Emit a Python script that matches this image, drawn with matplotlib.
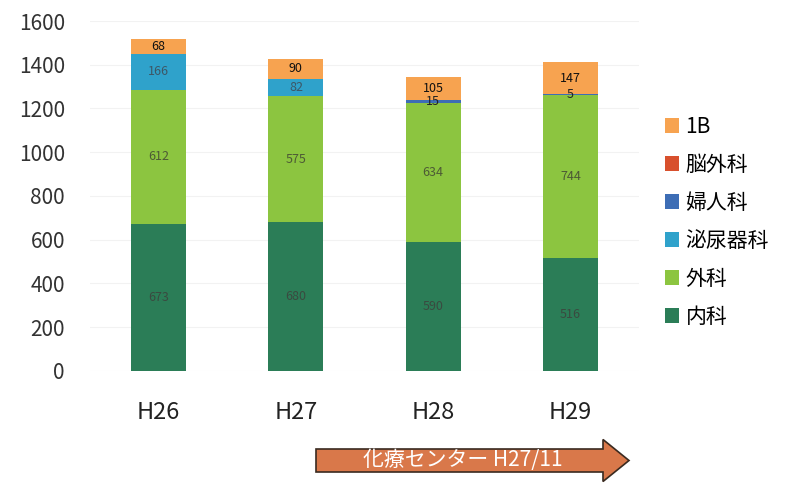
import matplotlib
matplotlib.use("Agg")
import matplotlib.pyplot as plt
from matplotlib.patches import Patch, FancyArrow
from matplotlib.transforms import IdentityTransform

plt.rcParams["font.family"] = ["Noto Sans CJK JP", "DejaVu Sans"]

years = ["H26", "H27", "H28", "H29"]
naika = [673, 680, 590, 516]
geka = [612, 575, 634, 744]
hinyoki = [166, 82, 0, 0]
fujin = [0, 0, 15, 5]
nougeka = [0, 0, 0, 0]
ward_1b = [68, 90, 105, 147]

series = [
    ("内科", naika, "#2b7d57", "#3a4a40"),
    ("外科", geka, "#8cc540", "#4d5a35"),
    ("泌尿器科", hinyoki, "#2fa2cb", "#3d5766"),
    ("婦人科", fujin, "#3d6db5", "#222222"),
    ("脳外科", nougeka, "#d8502d", "#222222"),
    ("1B", ward_1b, "#f7a350", "#111111"),
]

fig = plt.figure(figsize=(7.86, 4.83), dpi=100)
ax = fig.add_axes([0.1145, 0.232, 0.6985, 0.7245])

x = range(len(years))
bottom = [0] * len(years)
for name, vals, color, tcolor in series:
    ax.bar(x, vals, 0.4, bottom=bottom, color=color, edgecolor="none", zorder=2)
    for i, v in enumerate(vals):
        if v > 0:
            ax.text(i, bottom[i] + v / 2, str(v), ha="center", va="center",
                    fontsize=9, color=tcolor, zorder=3)
    bottom = [b + v for b, v in zip(bottom, vals)]

ax.set_xlim(-0.5, len(years) - 0.5)
ax.set_ylim(0, 1600)
ax.set_yticks(range(0, 1601, 200))
ax.set_xticks(list(x))
ax.set_xticklabels(years, fontsize=17)
ax.tick_params(axis="y", labelsize=15, length=0, pad=18, colors="#333333")
ax.tick_params(axis="x", length=0, pad=22, colors="#222222")
ax.grid(axis="y", color="#f2f2f2", linewidth=0.8, zorder=0)
for s in ax.spines.values():
    s.set_visible(False)

handles = [Patch(facecolor=c, edgecolor="none", label=n) for n, _, c, _ in series][::-1]
fig.legend(handles=handles, loc="upper left", bbox_to_anchor=(0.835, 0.778),
           frameon=False, fontsize=15, handlelength=0.7, handleheight=0.7,
           handletextpad=0.3, labelspacing=0.77, borderaxespad=0)

# arrow underneath the axis marking the start of the centre
arrow = FancyArrow(316, 22.5, 287, 0, width=23, head_width=42, head_length=26,
                   length_includes_head=False, transform=IdentityTransform(),
                   facecolor="#d9784a", edgecolor="#3a2a20", linewidth=1.2)
fig.patches.append(arrow)
fig.text(463 / 786, 22.5 / 483, "化療センター H27/11", ha="center", va="center",
         fontsize=15, color="white")

fig.savefig("out.png", dpi=100)
